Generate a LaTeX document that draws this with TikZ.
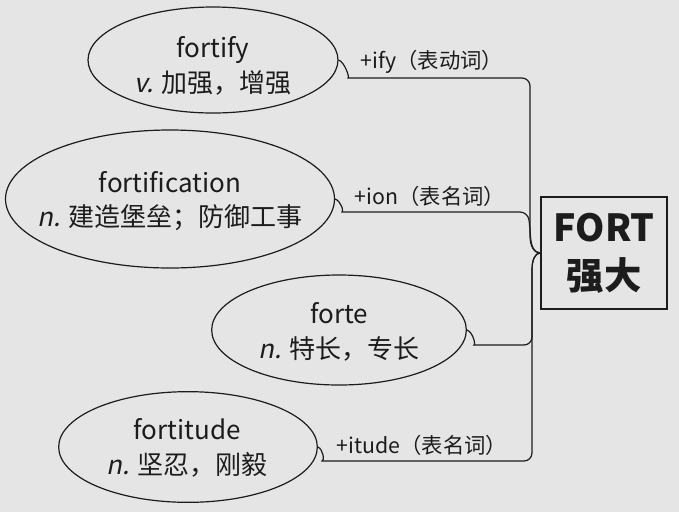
\documentclass[tikz,border=0pt]{standalone}
\usepackage{fontspec}
\setmainfont{Noto Sans CJK SC}[AutoFakeSlant=0.2]
\usetikzlibrary{shapes.geometric}

\definecolor{paper}{RGB}{229,229,229}
\definecolor{ink}{RGB}{28,28,28}

\tikzset{
  word/.style={ellipse, draw=ink, line width=0.9pt, inner sep=0pt},
  gloss/.style={align=center, text=ink, inner sep=0pt, font=\fontsize{19.5}{26}\selectfont},
  branch/.style={draw=ink, line width=0.9pt, rounded corners=6pt},
  tag/.style={text=ink, inner sep=1pt, font=\fontsize{16}{18}\selectfont},
}

\begin{document}
\begin{tikzpicture}[x=0.75pt, y=-0.75pt]
    \fill[paper] (0,0) rectangle (679,512);

    % root word
    \node[draw=ink, line width=1.2pt, minimum width=94.5pt, minimum height=84pt,
          align=center, text=ink, font=\bfseries\fontsize{28}{36}\selectfont] (fort) at (604,253) {FORT\\强大};

    % derived words
    \node[word, minimum width=187.5pt, minimum height=79.5pt] (fortify) at (213,60) {};
    \node[gloss] (fortify-txt) at (213,66) {fortify\\\textit{v.} 加强，增强};

    \node[word, minimum width=246.75pt, minimum height=103.5pt] (fortification) at (170,199) {};
    \node[gloss] (fortification-txt) at (170,201) {fortification\\\textit{n.} 建造堡垒；防御工事};

    \node[word, minimum width=191pt, minimum height=82.5pt] (forte) at (339,330) {};
    \node[gloss] (forte-txt) at (339,332) {forte\\\textit{n.} 特长，专长};

    \node[word, minimum width=194pt, minimum height=83pt] (fortitude) at (188,447) {};
    \node[gloss] (fortitude-txt) at (187,448) {fortitude\\\textit{n.} 坚忍，刚毅};

    % branches
    \draw[branch] (fortify.east) .. controls +(6,2) and +(-6,0) .. (356,78) -- (530,78) -- (530,228)
        .. controls (530,246) and (534,253) .. (fort.west);
    \draw[branch] (fortification.east) .. controls +(6,2) and +(-6,0) .. (350,212) -- (528,212) -- (530,228)
        .. controls (531,246) and (534,253) .. (fort.west);
    \draw[branch] (forte.east) .. controls +(6,2) and +(-6,0) .. (482,345) -- (532,345) -- (532,278)
        .. controls (532,260) and (535,253) .. (fort.west);
    \draw[branch] (fortitude.east) .. controls +(5,2) and +(-5,0) .. (330,461) -- (532,461) -- (532,278)
        .. controls (532,260) and (535,253) .. (fort.west);

    \node[tag] (ify) at (432,62) {+ify（表动词）};
    \node[tag] (ion) at (430,196) {+ion（表名词）};
    \node[tag] (itude) at (422,445) {+itude（表名词）};
\end{tikzpicture}
\end{document}
